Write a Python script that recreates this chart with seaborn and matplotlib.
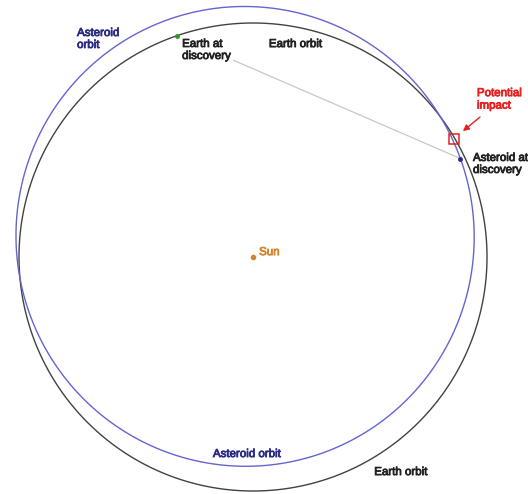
import numpy as np
import pandas as pd
import matplotlib
matplotlib.use("Agg")
import matplotlib.pyplot as plt
import matplotlib.patheffects as pe
import seaborn as sns

# orbit parameters (AU, degrees), Sun at the origin
earth_radius = 1.0
asteroid_a = 0.983
asteroid_e = 0.096
asteroid_peri = -69.0

# positions at discovery (angle around the Sun, degrees)
earth_angle = 109.0
asteroid_angle = 25.4
impact_point = [0.861, 0.504]

# sight line starts where the label ends
sight_start = 0.2


def asteroid_r(theta_deg):
    th = np.radians(theta_deg - asteroid_peri)
    return asteroid_a * (1 - asteroid_e ** 2) / (1 + asteroid_e * np.cos(th))


theta = np.linspace(0, 360, 720, endpoint=False)
earth_df = pd.DataFrame({
    "x": earth_radius * np.cos(np.radians(theta)),
    "y": earth_radius * np.sin(np.radians(theta)),
})
ast_r = asteroid_r(theta)
asteroid_df = pd.DataFrame({
    "x": ast_r * np.cos(np.radians(theta)),
    "y": ast_r * np.sin(np.radians(theta)),
})

earth_pos = np.array([np.cos(np.radians(earth_angle)), np.sin(np.radians(earth_angle))]) * earth_radius
ast_pos = np.array([np.cos(np.radians(asteroid_angle)), np.sin(np.radians(asteroid_angle))]) * asteroid_r(asteroid_angle)

sns.set_theme(style="white")
plt.rcParams["font.family"] = ["Liberation Sans", "DejaVu Sans"]

fig = plt.figure(figsize=(5.28, 4.94), dpi=100)
ax = fig.add_axes([0, 0, 1, 1])

# orbits (closed outlines)
ax.fill(earth_df["x"], earth_df["y"], fill=False, edgecolor="#424242", linewidth=1.0)
ax.fill(asteroid_df["x"], asteroid_df["y"], fill=False, edgecolor="#6464d4", linewidth=1.0)

# line of sight from Earth to asteroid
p0 = earth_pos + sight_start * (ast_pos - earth_pos)
ax.plot([p0[0], ast_pos[0]], [p0[1], ast_pos[1]], color="#c8c8c8", linewidth=0.9)

# bodies
ax.plot(0, 0, "o", color="#d2862e", markersize=3)
ax.plot(earth_pos[0], earth_pos[1], "o", color="#2e9a2e", markersize=2.5)
ax.plot(ast_pos[0], ast_pos[1], "o", color="#2a2a80", markersize=2.5)
ax.plot(impact_point[0], impact_point[1], "s", markerfacecolor="none",
        markeredgecolor="#e82020", markersize=7, markeredgewidth=1.1)

# arrow to potential impact
ax.annotate("", xy=(0.897, 0.538), xytext=(0.970, 0.598),
            arrowprops=dict(arrowstyle="-|>", color="#e82020", lw=1.0,
                            mutation_scale=9, shrinkA=0, shrinkB=0))

fs = 8.3


def label(x, y, s, color, **kw):
    t = ax.text(x, y, s, color=color, fontsize=fs, **kw)
    t.set_path_effects([pe.withStroke(linewidth=0.6, foreground=color)])
    return t


label(-0.752, 0.983, "Asteroid\norbit", "#2b2b85", ha="left", va="top", linespacing=1.0)
label(-0.303, 0.936, "Earth at\ndiscovery", "#222222", ha="left", va="top", linespacing=1.0)
label(0.068, 0.910, "Earth orbit", "#222222", ha="left", va="center")
label(0.957, 0.726, "Potential\nimpact", "#e82020", ha="left", va="top", linespacing=1.05)
label(0.940, 0.449, "Asteroid at\ndiscovery", "#222222", ha="left", va="top", linespacing=1.0)
label(0.026, 0.021, "Sun", "#d2862e", ha="left", va="center")
label(-0.026, -0.842, "Asteroid orbit", "#2b2b85", ha="center", va="center")
label(0.632, -0.919, "Earth orbit", "#222222", ha="center", va="center")

ax.set_xlim(-1.0812, 1.1752)
ax.set_ylim(-1.0128, 1.0983)
ax.set_axis_off()

fig.savefig("out.png", dpi=100)
